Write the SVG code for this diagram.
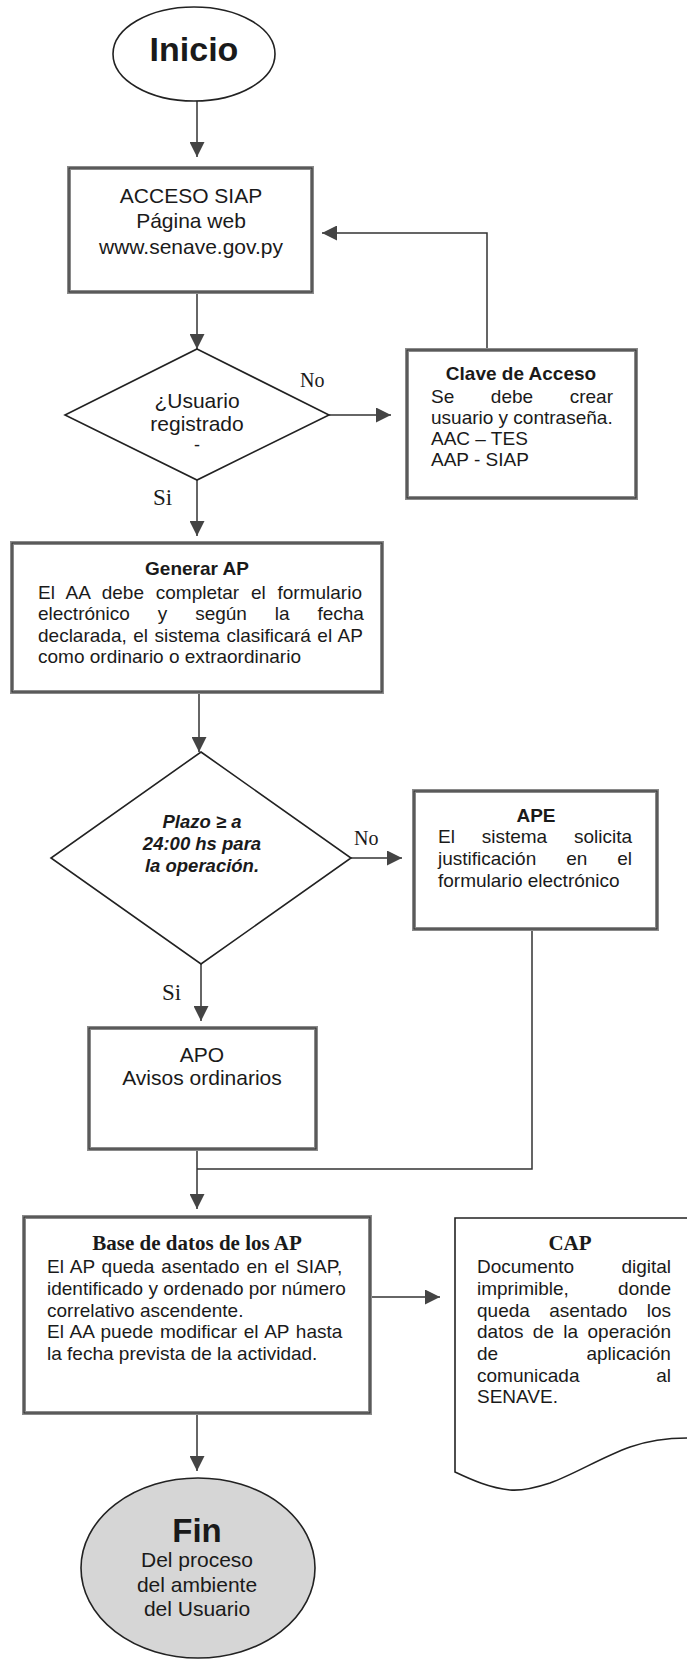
<svg xmlns="http://www.w3.org/2000/svg" width="687" height="1659" viewBox="0 0 687 1659">
<style>
.t{font-family:"Liberation Sans",Arial,sans-serif;fill:#1a1a1a}
.b{font-size:19px}
.c{text-anchor:middle}
.bold{font-weight:bold}
.s{font-family:"Liberation Serif","Times New Roman",serif;fill:#1a1a1a}
.band{fill:#fff;stroke:#8a8a8a;stroke-width:4}
.line{fill:none;stroke:#2a2a2a;stroke-width:1}
.edge{fill:none;stroke:#333;stroke-width:1.5}
.shape{fill:#fff;stroke:#222;stroke-width:1.6}
</style>
<defs>
<marker id="ah" markerUnits="userSpaceOnUse" markerWidth="15" markerHeight="15" viewBox="0 0 15 15" refX="15" refY="7.5" orient="auto">
<path d="M0,0 L15,7.5 L0,15 Z" fill="#444"/>
</marker>
</defs>
<rect width="687" height="1659" fill="#fff"/>

<g id="connectors">
<path class="edge" d="M197,101 V157" marker-end="url(#ah)"/>
<path class="edge" d="M197,292 V349" marker-end="url(#ah)"/>
<path class="edge" d="M329,415 H391" marker-end="url(#ah)"/>
<path class="edge" d="M487,350 V233 H322" marker-end="url(#ah)"/>
<path class="edge" d="M197,480 V536" marker-end="url(#ah)"/>
<path class="edge" d="M199,692 V752" marker-end="url(#ah)"/>
<path class="edge" d="M351,858 H402" marker-end="url(#ah)"/>
<path class="edge" d="M201,964 V1021" marker-end="url(#ah)"/>
<path class="edge" d="M197,1149 V1209" marker-end="url(#ah)"/>
<path class="edge" d="M532,929 V1169 H197"/>
<path class="edge" d="M370,1297 H440" marker-end="url(#ah)"/>
<path class="edge" d="M197,1413 V1471" marker-end="url(#ah)"/>
<text class="s" x="300" y="387" font-size="20">No</text>
<text class="s" x="153" y="505" font-size="23">Si</text>
<text class="s" x="354" y="845" font-size="20">No</text>
<text class="s" x="162" y="1000" font-size="23">Si</text>
</g>

<g id="inicio">
<ellipse cx="194" cy="54" rx="81" ry="47" class="shape"/>
<text class="t c bold" x="194" y="61" font-size="34">Inicio</text>
</g>

<g id="acceso">
<rect x="69" y="168" width="243" height="124" class="band"/>
<rect x="69" y="168" width="243" height="124" class="line"/>
<text class="t c" x="191" y="203" font-size="21">ACCESO SIAP</text>
<text class="t c" x="191" y="228" font-size="21">Página web</text>
<text class="t c" x="191" y="254" font-size="21">www.senave.gov.py</text>
</g>

<g id="usuario">
<polygon points="197,349 329,415 197,480 65,415" class="shape"/>
<text class="t c" x="197" y="408" font-size="21">¿Usuario</text>
<text class="t c" x="197" y="431" font-size="21">registrado</text>
<text class="t c" x="197" y="451" font-size="18">-</text>
</g>

<g id="clave">
<rect x="407" y="350" width="229" height="148" class="band"/>
<rect x="407" y="350" width="229" height="148" class="line"/>
<text class="t b c bold" x="521" y="380">Clave de Acceso</text>
<text class="t b" x="431" y="403" style="word-spacing:31.3px">Se debe crear</text>
<text class="t b" x="431" y="424">usuario y contraseña.</text>
<text class="t b" x="431" y="445">AAC – TES</text>
<text class="t b" x="431" y="466">AAP - SIAP</text>
</g>

<g id="generar">
<rect x="12" y="543" width="370" height="149" class="band"/>
<rect x="12" y="543" width="370" height="149" class="line"/>
<text class="t b c bold" x="197" y="575">Generar AP</text>
<text class="t b" x="38" y="599" style="word-spacing:6.5px">El AA debe completar el formulario</text>
<text class="t b" x="38" y="620" style="word-spacing:22.6px">electrónico y según la fecha</text>
<text class="t b" x="38" y="642" style="word-spacing:1.2px">declarada, el sistema clasificará el AP</text>
<text class="t b" x="38" y="663">como ordinario o extraordinario</text>
</g>

<g id="plazo">
<polygon points="201,752 351,858 201,964 51,858" class="shape"/>
<text class="t c bold" x="202" y="828" font-size="18.5" font-style="italic">Plazo ≥ a</text>
<text class="t c bold" x="202" y="850" font-size="18.5" font-style="italic">24:00 hs para</text>
<text class="t c bold" x="202" y="872" font-size="18.5" font-style="italic">la operación.</text>
</g>

<g id="ape">
<rect x="414" y="791" width="243" height="138" class="band"/>
<rect x="414" y="791" width="243" height="138" class="line"/>
<text class="t b c bold" x="536" y="822">APE</text>
<text class="t b" x="438" y="843" style="word-spacing:21.5px">El sistema solicita</text>
<text class="t b" x="438" y="865" style="word-spacing:24.7px">justificación en el</text>
<text class="t b" x="438" y="887">formulario electrónico</text>
</g>

<g id="apo">
<rect x="89" y="1028" width="227" height="121" class="band"/>
<rect x="89" y="1028" width="227" height="121" class="line"/>
<text class="t c" x="202" y="1062" font-size="21">APO</text>
<text class="t c" x="202" y="1085" font-size="21">Avisos ordinarios</text>
</g>

<g id="base">
<rect x="24" y="1217" width="346" height="196" class="band"/>
<rect x="24" y="1217" width="346" height="196" class="line"/>
<text class="s c bold" x="197" y="1250" font-size="21">Base de datos de los AP</text>
<text class="t b" x="47" y="1273" style="word-spacing:1.6px">El AP queda asentado en el SIAP,</text>
<text class="t b" x="47" y="1295">identificado y ordenado por número</text>
<text class="t b" x="47" y="1317">correlativo ascendente.</text>
<text class="t b" x="47" y="1338" style="word-spacing:1.4px">El AA puede modificar el AP hasta</text>
<text class="t b" x="47" y="1360">la fecha prevista de la actividad.</text>
</g>

<g id="cap">
<path class="shape" d="M455,1472 V1218 H700 V1438 L687,1438 C670,1438 650,1440 630,1447 C600,1458 575,1474 550,1483 C535,1488 522,1491 510,1490 C490,1488 472,1480 455,1472 Z"/>
<text class="s c bold" x="570" y="1250" font-size="21">CAP</text>
<text class="t b" x="477" y="1273" style="word-spacing:42px">Documento digital</text>
<text class="t b" x="477" y="1295" style="word-spacing:44px">imprimible, donde</text>
<text class="t b" x="477" y="1317" style="word-spacing:14.1px">queda asentado los</text>
<text class="t b" x="477" y="1338" style="word-spacing:4.1px">datos de la operación</text>
<text class="t b" x="477" y="1360" style="word-spacing:83px">de aplicación</text>
<text class="t b" x="477" y="1382" style="word-spacing:71.5px">comunicada al</text>
<text class="t b" x="477" y="1403">SENAVE.</text>
</g>

<g id="fin">
<ellipse cx="198" cy="1568" rx="117" ry="90" fill="#d6d6d6" stroke="#222" stroke-width="1.6"/>
<text class="t c bold" x="197" y="1542" font-size="33">Fin</text>
<text class="t c" x="197" y="1567" font-size="21">Del proceso</text>
<text class="t c" x="197" y="1592" font-size="21">del ambiente</text>
<text class="t c" x="197" y="1616" font-size="21">del Usuario</text>
</g>
</svg>
